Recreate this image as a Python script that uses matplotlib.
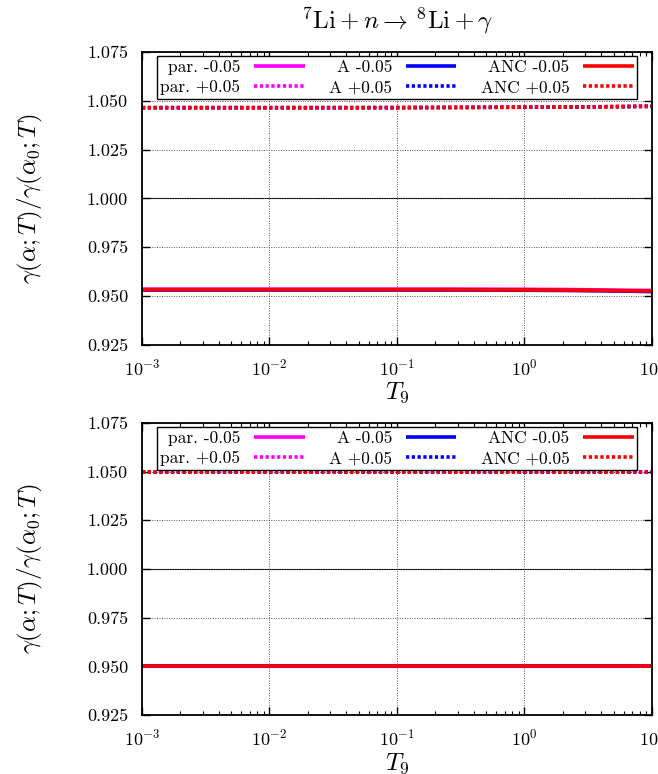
import numpy as np
import matplotlib
matplotlib.use("Agg")
import matplotlib.pyplot as plt
from matplotlib.ticker import FixedLocator, LogLocator, NullFormatter

plt.rcParams['font.family'] = 'serif'
plt.rcParams['font.serif'] = ['cmr10']
plt.rcParams['mathtext.fontset'] = 'cm'
plt.rcParams['axes.formatter.use_mathtext'] = True
plt.rcParams['axes.unicode_minus'] = False

# temperature grid (T9) and the ratio curves for each varied quantity
T9 = [1e-3, 3e-3, 1e-2, 3e-2, 1e-1, 3e-1, 1.0, 2.0, 4.0, 7.0, 10.0]

top_curves = {
    "par. -0.05": [0.9536, 0.9536, 0.9536, 0.9536, 0.9536, 0.9536, 0.9535, 0.9534, 0.9532, 0.9530, 0.9529],
    "par. +0.05": [1.0464, 1.0464, 1.0464, 1.0464, 1.0465, 1.0466, 1.0467, 1.0468, 1.0470, 1.0472, 1.0474],
    "A -0.05":    [0.9531, 0.9531, 0.9531, 0.9531, 0.9531, 0.9531, 0.9530, 0.9529, 0.9527, 0.9525, 0.9523],
    "A +0.05":    [1.0465, 1.0465, 1.0465, 1.0465, 1.0465, 1.0466, 1.0467, 1.0468, 1.0469, 1.0470, 1.0471],
    "ANC -0.05":  [0.9533, 0.9533, 0.9533, 0.9533, 0.9533, 0.9533, 0.9532, 0.9531, 0.9529, 0.9527, 0.9526],
    "ANC +0.05":  [1.0465, 1.0465, 1.0465, 1.0465, 1.0465, 1.0466, 1.0467, 1.0468, 1.0469, 1.0471, 1.0472],
}
bottom_curves = {
    "par. -0.05": [0.9500] * 11,
    "par. +0.05": [1.0500] * 11,
    "A -0.05":    [0.9500] * 11,
    "A +0.05":    [1.0500] * 11,
    "ANC -0.05":  [0.9500] * 11,
    "ANC +0.05":  [1.0500] * 11,
}
colors = {"par.": "#ff00ff", "A": "#0000ff", "ANC": "#ff0000"}
yticks = [0.925, 0.950, 0.975, 1.000, 1.025, 1.050, 1.075]


def draw_panel(ax, curves):
    for name, vals in curves.items():
        key = name.split()[0]
        ls = (0, (0.9, 0.7)) if "+" in name else "-"
        ax.plot(T9, vals, color=colors[key], lw=2.6, ls=ls, label=name,
                solid_capstyle="butt", dash_capstyle="butt")
    ax.axhline(1.0, color="black", lw=0.8, zorder=1)
    ax.set_xscale("log")
    ax.set_xlim(1e-3, 10)
    ax.set_ylim(0.925, 1.075)
    ax.yaxis.set_major_locator(FixedLocator(yticks))
    ax.set_yticklabels([f"{v:.3f}" for v in yticks])
    ax.xaxis.set_major_locator(LogLocator(base=10, numticks=10))
    ax.xaxis.set_minor_locator(LogLocator(base=10, subs=np.arange(2, 10), numticks=10))
    ax.xaxis.set_minor_formatter(NullFormatter())
    ax.grid(True, which="major", ls=(0, (1, 1.5)), color="#555555", lw=0.7)
    ax.tick_params(which="both", direction="in", top=True, right=True, labelsize=13)
    ax.tick_params(axis="y", pad=10)
    ax.tick_params(axis="x", pad=9)
    ax.tick_params(which="major", length=6, width=1)
    ax.tick_params(which="minor", length=3, width=0.8)
    for s in ax.spines.values():
        s.set_linewidth(1.3)
    ax.set_xlabel(r"$T_9$", fontsize=18, labelpad=2)
    ax.set_ylabel(r"$\gamma(\alpha;T)/\gamma(\alpha_0;T)$", fontsize=18, labelpad=30)
    handles, labels = ax.get_legend_handles_labels()
    leg = ax.legend(handles, labels,
                    ncol=3, markerfirst=False, loc="upper center",
                    bbox_to_anchor=(0.5, 0.998), fontsize=12.5, handlelength=2.9,
                    handletextpad=0.8, columnspacing=1.4, labelspacing=0.3,
                    borderpad=0.2, frameon=True, fancybox=False, framealpha=1,
                    edgecolor="black", borderaxespad=0.2)
    leg.get_frame().set_linewidth(1.0)
    for t in leg.get_texts():
        t.set_ha("right")


fig = plt.figure(figsize=(6.58, 7.74), dpi=100)
ax1 = fig.add_axes([0.2158, 0.5543, 0.775, 0.3786])
ax2 = fig.add_axes([0.2158, 0.0762, 0.775, 0.3773])
draw_panel(ax1, top_curves)
draw_panel(ax2, bottom_curves)
ax1.set_title(r"$^7\mathrm{Li} + n \rightarrow\, ^8\mathrm{Li} + \gamma$", fontsize=18, pad=17)

fig.savefig("out.png", dpi=100)
